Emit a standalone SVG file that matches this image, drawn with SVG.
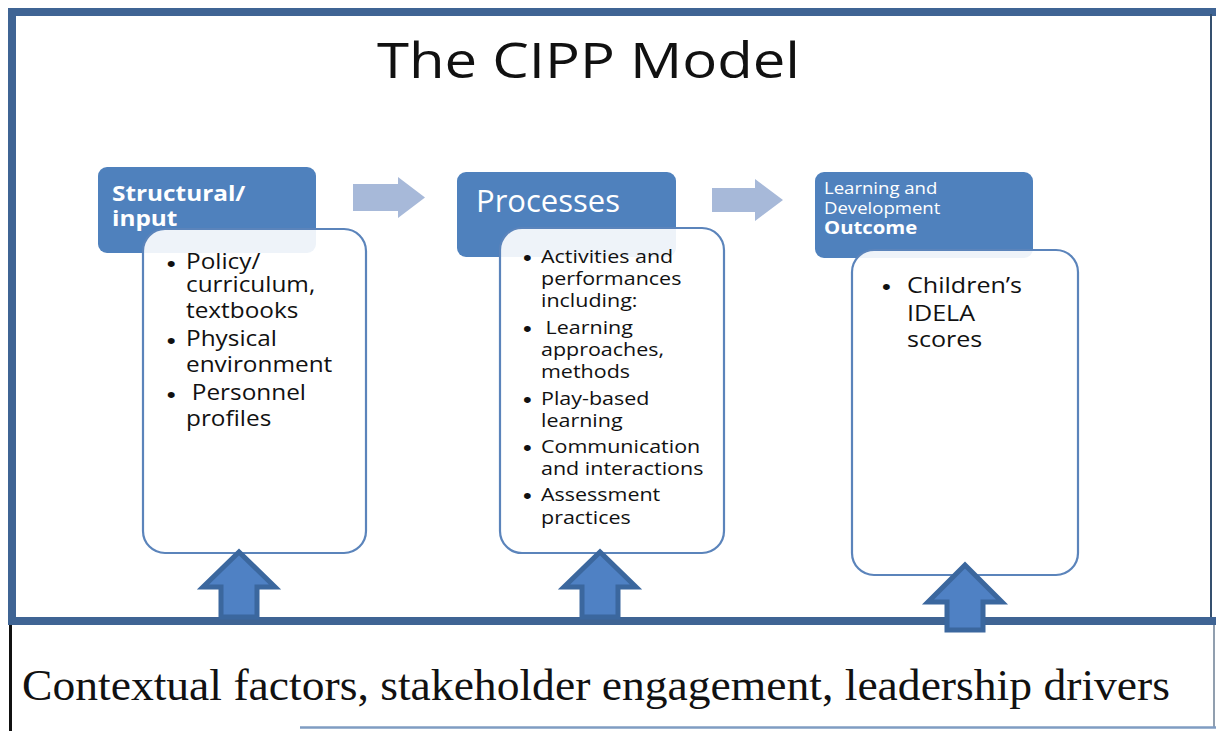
<svg xmlns="http://www.w3.org/2000/svg" width="1216" height="731" viewBox="0 0 1216 731">
  <defs>
    <style>
      .hdr { fill: #4f81bd; }
      .body { fill: #ffffff; fill-opacity: 0.9; stroke: #5b84bb; stroke-width: 2.2; }
      .flow { fill: #a7b9d9; }
      .up { fill: #4f81c4; stroke: #3b679e; stroke-width: 5; stroke-linejoin: miter; }
      .sans { font-family: "Open Sans", "Liberation Sans", sans-serif; }
      .dot { font-family: "Liberation Sans", Arial, sans-serif; font-size: 22px; }
      .hw { fill: #ffffff; }
      .bt { fill: #111111; }
    </style>
  </defs>

  <!-- page background -->
  <rect x="0" y="0" width="1216" height="731" fill="#ffffff"/>

  <!-- outer frame of the model -->
  <g id="frame">
    <line x1="8" y1="12" x2="1216" y2="12" stroke="#3f6494" stroke-width="8"/>
    <line x1="12" y1="8" x2="12" y2="625" stroke="#3f6494" stroke-width="8"/>
    <line x1="1211" y1="14" x2="1211" y2="617" stroke="#35506f" stroke-width="2"/>
    <line x1="8" y1="621" x2="1216" y2="621" stroke="#3f6494" stroke-width="8"/>
  </g>

  <!-- context band below the frame -->
  <g id="context">
    <line x1="10.5" y1="625" x2="10.5" y2="731" stroke="#111111" stroke-width="3"/>
    <line x1="1214" y1="625" x2="1214" y2="728" stroke="#6d7f95" stroke-width="1.5"/>
    <line x1="300" y1="727.5" x2="1216" y2="727.5" stroke="#7f9cc2" stroke-width="2.5"/>
    <text x="22" y="700" font-family="'Liberation Serif', 'Times New Roman', serif" font-size="45" fill="#111111" textLength="1148" lengthAdjust="spacingAndGlyphs">Contextual factors, stakeholder engagement, leadership drivers</text>
  </g>

  <!-- title -->
  <g id="title">
    <text x="377" y="78" class="sans" font-size="49" fill="#111111" textLength="423" lengthAdjust="spacingAndGlyphs">The CIPP Model</text>
  </g>

  <!-- stage 1: structural / input -->
  <g id="node-input">
    <rect class="hdr" x="98" y="167" width="218" height="86" rx="9"/>
    <text class="sans hw" font-weight="bold" font-size="21" transform="translate(112,0) scale(1.16,1)">
      <tspan x="0" y="201">Structural/</tspan>
      <tspan x="0" y="226">input</tspan>
    </text>
    <rect class="body" x="143" y="229" width="223" height="324" rx="22"/>
    <text class="sans bt" font-size="21" transform="translate(186,0) scale(1.16,1)">
      <tspan class="dot" x="-16.5" y="271">•</tspan>
      <tspan x="0" y="269">Policy/</tspan>
      <tspan x="0" y="292">curriculum,</tspan>
      <tspan x="0" y="318">textbooks</tspan>
      <tspan class="dot" x="-16.5" y="348">•</tspan>
      <tspan x="0" y="346">Physical</tspan>
      <tspan x="0" y="372">environment</tspan>
      <tspan class="dot" x="-16.5" y="402">•</tspan>
      <tspan x="5" y="400">Personnel</tspan>
      <tspan x="0" y="426">profiles</tspan>
    </text>
  </g>

  <!-- stage 2: processes -->
  <g id="node-processes">
    <rect class="hdr" x="457" y="172" width="219" height="85" rx="9"/>
    <text class="sans hw" font-size="31" x="476" y="212">Processes</text>
    <rect class="body" x="500" y="228" width="224" height="325" rx="22"/>
    <text class="sans bt" font-size="19" transform="translate(541,0) scale(1.13,1)">
      <tspan class="dot" x="-16" y="265">•</tspan>
      <tspan x="0" y="263">Activities and</tspan>
      <tspan x="0" y="285">performances</tspan>
      <tspan x="0" y="307">including:</tspan>
      <tspan class="dot" x="-16" y="336">•</tspan>
      <tspan x="4" y="334">Learning</tspan>
      <tspan x="0" y="356">approaches,</tspan>
      <tspan x="0" y="378">methods</tspan>
      <tspan class="dot" x="-16" y="407">•</tspan>
      <tspan x="0" y="405">Play-based</tspan>
      <tspan x="0" y="427">learning</tspan>
      <tspan class="dot" x="-16" y="455">•</tspan>
      <tspan x="0" y="453">Communication</tspan>
      <tspan x="0" y="475">and interactions</tspan>
      <tspan class="dot" x="-16" y="503">•</tspan>
      <tspan x="0" y="501">Assessment</tspan>
      <tspan x="0" y="524">practices</tspan>
    </text>
  </g>

  <!-- stage 3: learning and development outcome -->
  <g id="node-outcome">
    <rect class="hdr" x="815" y="172" width="218" height="86" rx="9"/>
    <text class="sans hw" font-size="16" transform="translate(824,0) scale(1.16,1)">
      <tspan x="0" y="194">Learning and</tspan>
      <tspan x="0" y="214">Development</tspan>
      <tspan font-weight="bold" font-size="17.5" x="0" y="234">Outcome</tspan>
    </text>
    <rect class="body" x="852" y="250" width="226" height="325" rx="22"/>
    <text class="sans bt" font-size="22" transform="translate(907,0) scale(1.14,1)">
      <tspan class="dot" x="-22" y="294">•</tspan>
      <tspan x="0" y="293">Children’s</tspan>
      <tspan x="0" y="321">IDELA</tspan>
      <tspan x="0" y="347">scores</tspan>
    </text>
  </g>

  <!-- connectors: flow arrows between stages and upward context arrows -->
  <g id="connectors">
    <polygon class="flow" points="353,184 398,184 398,177 425,197.5 398,218 398,211 353,211"/>
    <polygon class="flow" points="712,188 755,188 755,179 783,200 755,221 755,212 712,212"/>
    <polygon class="up" points="221,617 221,587 203,587 239,552 275,587 257,587 257,617"/>
    <polygon class="up" points="582,617 582,587 564,587 600,552 636,587 618,587 618,617"/>
    <polygon class="up" points="947,630 947,602 928,602 965,565 1002,602 983,602 983,630"/>
  </g>
</svg>
